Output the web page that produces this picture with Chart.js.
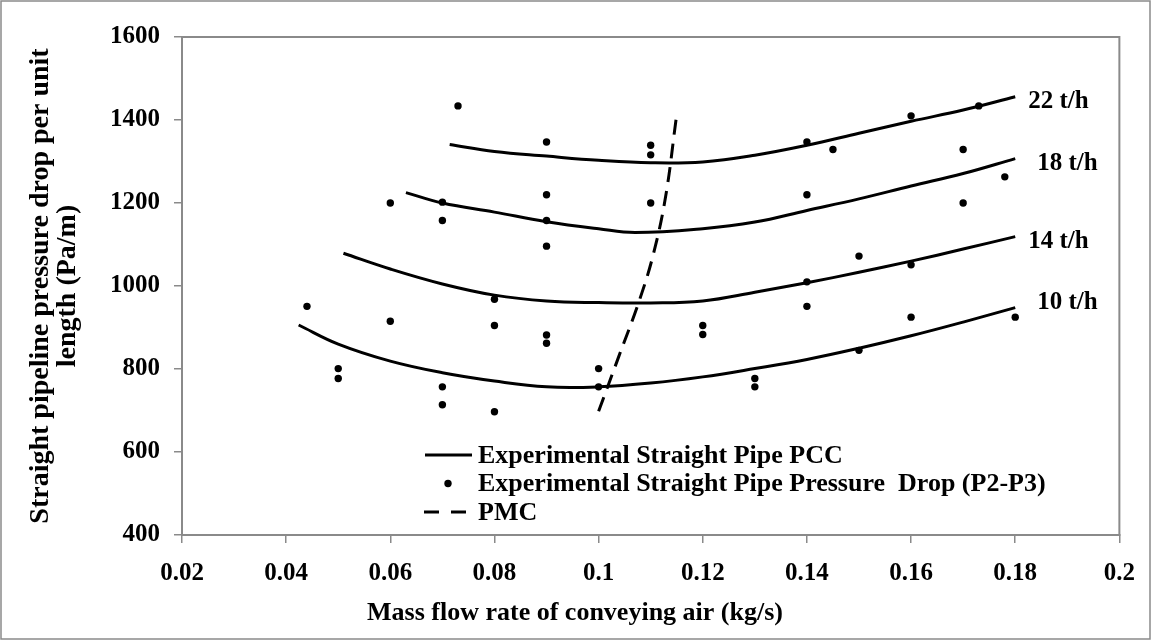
<!DOCTYPE html>
<html>
<head>
<meta charset="utf-8">
<script src="https://cdn.jsdelivr.net/npm/chart.js@4.4.1/dist/chart.umd.min.js"></script>
<style>
  html, body { margin: 0; padding: 0; background: #fff; }
  #wrap { width: 1151px; height: 640px; }
</style>
</head>
<body>
<div id="wrap"><canvas id="c" width="1151" height="640"></canvas></div>
<script>
// Ticks
const xTicks = ['0.02','0.04','0.06','0.08','0.1','0.12','0.14','0.16','0.18','0.2'];
const yTicks = ['400','600','800','1000','1200','1400','1600'];

// PCC curves
const x22 = [0.0714, 0.08, 0.09, 0.10, 0.11, 0.12, 0.13, 0.14, 0.15, 0.16, 0.17, 0.18];
const y22 = [1341, 1324, 1313, 1303, 1297, 1299, 1315, 1339, 1368, 1397, 1424, 1456];
const x18 = [0.063, 0.07, 0.08, 0.09, 0.10, 0.107, 0.12, 0.13, 0.14, 0.15, 0.16, 0.17, 0.18];
const y18 = [1225, 1200, 1178, 1155, 1138, 1129, 1138, 1154, 1182, 1210, 1241, 1271, 1307];
const x14 = [0.051, 0.06, 0.07, 0.08, 0.09, 0.10, 0.11, 0.12, 0.13, 0.14, 0.15, 0.16, 0.17, 0.18];
const y14 = [1079, 1041, 1005, 978, 964, 960, 959, 964, 985, 1008, 1033, 1060, 1089, 1119];
const x10 = [0.0424, 0.05, 0.06, 0.07, 0.08, 0.09, 0.10, 0.11, 0.12, 0.13, 0.14, 0.15, 0.16, 0.17, 0.18];
const y10 = [906, 860, 819, 791, 771, 757, 757, 766, 781, 801, 823, 850, 880, 913, 948];
const curveNames = ['22 t/h', '18 t/h', '14 t/h', '10 t/h'];

// measured pressure drop points (P2-P3)
const ptX = [0.073, 0.09, 0.11, 0.11, 0.14, 0.145, 0.16, 0.173, 0.17,
  0.06, 0.07, 0.07, 0.09, 0.09, 0.09, 0.11, 0.14, 0.17, 0.178,
  0.044, 0.06, 0.08, 0.08, 0.09, 0.09, 0.12, 0.12, 0.14, 0.14, 0.15, 0.16, 0.16, 0.18,
  0.05, 0.05, 0.07, 0.07, 0.08, 0.1, 0.1, 0.13, 0.13, 0.15];
const ptY = [1434, 1347, 1339, 1316, 1347, 1329, 1410, 1434, 1329,
  1200, 1202, 1158, 1220, 1158, 1096, 1200, 1220, 1200, 1263,
  951, 915, 968, 905, 882, 862, 905, 883, 1010, 951, 1072, 1051, 925, 925,
  801, 777, 757, 714, 697, 801, 757, 777, 757, 845];

// PMC
const pmcX = [0.1, 0.1039, 0.1079, 0.1106, 0.1129, 0.1149];
const pmcY = [698, 831, 968, 1081, 1218, 1404];

const legendLabels = ['Experimental Straight Pipe PCC', 'Experimental Straight Pipe Pressure  Drop (P2-P3)', 'PMC'];
const xTitle = 'Mass flow rate of conveying air (kg/s)';
const yTitle = ['Straight pipeline pressure drop per unit', 'length (Pa/m)'];

const FONT = '"Liberation Serif", "Times New Roman", serif';
const GRAY = '#8a8a8a';

const toXY = (xs, ys) => xs.map((x, i) => ({ x: x, y: ys[i] }));

const pccStyle = { type: 'line', borderColor: '#000', borderWidth: 3, pointRadius: 0, tension: 0.4, fill: false };

const datasets = [
  Object.assign({ label: curveNames[0], data: toXY(x22, y22) }, pccStyle),
  Object.assign({ label: curveNames[1], data: toXY(x18, y18) }, pccStyle),
  Object.assign({ label: curveNames[2], data: toXY(x14, y14) }, pccStyle),
  Object.assign({ label: curveNames[3], data: toXY(x10, y10) }, pccStyle),
  { type: 'scatter', label: legendLabels[1], data: toXY(ptX, ptY), pointRadius: 3.7,
    backgroundColor: '#000', borderColor: '#000', borderWidth: 0 },
  { type: 'line', label: legendLabels[2], data: toXY(pmcX, pmcY), borderColor: '#000',
    borderWidth: 3, borderDash: [15, 9], pointRadius: 0, tension: 0.4, fill: false }
];

// frame, axis title, curve labels, legend
const extras = {
  id: 'extras',
  afterDraw(chart) {
    const ctx = chart.ctx;
    const a = chart.chartArea;
    const xs = chart.scales.x, ys = chart.scales.y;
    ctx.save();
    // outer border
    ctx.strokeStyle = GRAY;
    ctx.lineWidth = 1.5;
    ctx.strokeRect(1, 1, chart.width - 2, chart.height - 2);
    // plot area border
    ctx.lineWidth = 2;
    ctx.strokeRect(a.left, a.top, a.right - a.left, a.bottom - a.top);

    ctx.fillStyle = '#000';
    ctx.textBaseline = 'middle';

    // x axis title (sits left of centre in the original)
    ctx.font = 'bold 26px ' + FONT;
    ctx.textAlign = 'center';
    ctx.fillText(xTitle, 575, 613);

    // curve labels
    ctx.font = 'bold 25px ' + FONT;
    ctx.textAlign = 'left';
    const offs = [[13, 5], [22, 5], [13, 5], [22, -5]];
    for (let i = 0; i < 4; i++) {
      const d = chart.data.datasets[i].data;
      const last = d[d.length - 1];
      ctx.fillText(curveNames[i], xs.getPixelForValue(last.x) + offs[i][0], ys.getPixelForValue(last.y) + offs[i][1]);
    }

    // legend
    const lx = 425, ly = 455, step = 28.5;
    ctx.font = 'bold 26px ' + FONT;
    ctx.lineWidth = 3;
    ctx.strokeStyle = '#000';
    ctx.beginPath(); ctx.moveTo(lx, ly); ctx.lineTo(lx + 47, ly); ctx.stroke();
    ctx.beginPath(); ctx.arc(lx + 23, ly + step, 3.7, 0, Math.PI * 2); ctx.fill();
    ctx.setLineDash([15, 12]);
    ctx.beginPath(); ctx.moveTo(lx - 1, ly + 2 * step); ctx.lineTo(lx + 47, ly + 2 * step); ctx.stroke();
    ctx.setLineDash([]);
    legendLabels.forEach((t, i) => ctx.fillText(t, lx + 53, ly + i * step + 1));
    ctx.restore();
  }
};

new Chart(document.getElementById('c'), {
  data: { datasets: datasets },
  options: {
    responsive: false,
    animation: false,
    layout: { padding: { left: 0, top: 37, right: 30, bottom: 0 } },
    plugins: { legend: { display: false }, tooltip: { enabled: false } },
    scales: {
      x: {
        type: 'linear', min: 0.02, max: 0.2,
        afterFit: s => { s.height = 105; },
        afterBuildTicks: s => { s.ticks = xTicks.map(v => ({ value: parseFloat(v) })); },
        ticks: { color: '#000', padding: 16, font: { family: FONT, size: 25, weight: 'bold' },
          callback: (v, i) => xTicks[i], maxRotation: 0, autoSkip: false },
        grid: { drawOnChartArea: false, drawTicks: true, tickLength: 8, color: GRAY, lineWidth: 1.5 },
        border: { color: GRAY, width: 2 },
        title: { display: false }
      },
      y: {
        type: 'linear', min: 400, max: 1600,
        afterFit: s => { s.width = 182; },
        afterBuildTicks: s => { s.ticks = yTicks.map(v => ({ value: parseFloat(v) })); },
        ticks: { color: '#000', padding: 14, font: { family: FONT, size: 25, weight: 'bold' },
          callback: (v, i) => yTicks[i] },
        grid: { drawOnChartArea: false, drawTicks: true, tickLength: 8, color: GRAY, lineWidth: 1.5 },
        border: { color: GRAY, width: 2 },
        title: { display: true, text: yTitle, color: '#000',
          font: { family: FONT, size: 28, weight: 'bold', lineHeight: 0.97 }, padding: { top: 27, bottom: 0 } }
      }
    }
  },
  plugins: [extras]
});
</script>
</body>
</html>
